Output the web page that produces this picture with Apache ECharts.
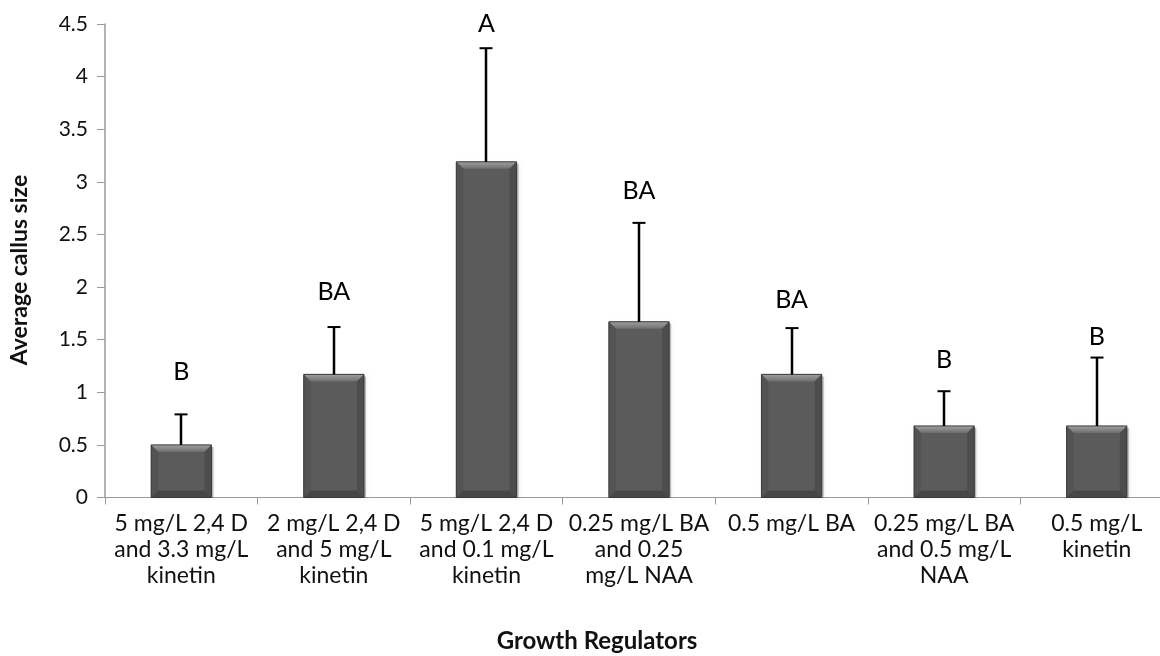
<!DOCTYPE html>
<html>
<head>
<meta charset="utf-8">
<title>Average callus size by growth regulator</title>
<script src="https://cdn.jsdelivr.net/npm/echarts@6/dist/echarts.min.js"></script>
<style>
  html, body { margin: 0; padding: 0; background: #ffffff; overflow: hidden; }
  /* the category axis runs on past the right edge of the page */
  #chart { width: 1180px; height: 656px; }
</style>
</head>
<body>
<div id="chart"></div>
<script>
// Treatments (growth regulator combinations)
const categories = [
  '5 mg/L 2,4 D\nand 3.3 mg/L\nkinetin',
  '2 mg/L 2,4 D\nand 5 mg/L\nkinetin',
  '5 mg/L 2,4 D\nand 0.1 mg/L\nkinetin',
  '0.25 mg/L BA\nand 0.25\nmg/L NAA',
  '0.5 mg/L BA',
  '0.25 mg/L BA\nand 0.5 mg/L\nNAA',
  '0.5 mg/L\nkinetin'
];
// Mean callus size per treatment
const meanSize = [0.50, 1.17, 3.19, 1.67, 1.17, 0.68, 0.68];
// Upper error (added on top of the mean)
const errorPlus = [0.29, 0.45, 1.08, 0.94, 0.44, 0.33, 0.65];
// Significance groups
const groups = ['B', 'BA', 'A', 'BA', 'BA', 'B', 'B'];
// Value-axis ticks
const yMin = 0, yMax = 4.5, yStep = 0.5;

// Height (in axis units) at which each group letter is written
const letterLevel = [1.19, 1.95, 4.50, 2.91, 1.88, 1.31, 1.53];

const FONT = 'Lato, "Open Sans", sans-serif';
const TEXT = '#111111';
const AXIS = '#9a9a9a';

const chart = echarts.init(document.getElementById('chart'), null, { renderer: 'canvas' });

// Bevelled dark-grey column
function renderBar(params, api) {
  const i = api.value(0);
  const top = api.coord([i, api.value(1)]);
  const base = api.coord([i, 0]);
  const w = api.size([1, 0])[0] * 0.395;
  const l = top[0] - w / 2, r = top[0] + w / 2;
  const t = top[1], b = base[1];
  const bv = Math.min(7, (b - t) / 3);
  return {
    type: 'group',
    children: [
      { type: 'rect', shape: { x: l + 2, y: t + 2, width: w, height: b - t - 2 },
        style: { fill: 'rgba(0,0,0,0.25)', shadowBlur: 4, shadowColor: 'rgba(0,0,0,0.35)' } },
      { type: 'rect', shape: { x: l, y: t, width: w, height: b - t },
        style: { fill: '#5b5b5b' } },
      { type: 'polygon', shape: { points: [[l, t], [r, t], [r - bv, t + bv], [l + bv, t + bv]] },
        style: { fill: new echarts.graphic.LinearGradient(0, 0, 0, 1, [
          { offset: 0, color: '#a0a0a0' }, { offset: 1, color: '#6e6e6e' }]) } },
      { type: 'polygon', shape: { points: [[l, t], [l + bv, t + bv], [l + bv, b - bv], [l, b]] },
        style: { fill: '#535353' } },
      { type: 'polygon', shape: { points: [[r, t], [r - bv, t + bv], [r - bv, b - bv], [r, b]] },
        style: { fill: '#4d4d4d' } },
      { type: 'polygon', shape: { points: [[l, b], [l + bv, b - bv], [r - bv, b - bv], [r, b]] },
        style: { fill: '#464646' } },
      { type: 'rect', shape: { x: l, y: t, width: w, height: b - t },
        style: { fill: 'none', stroke: '#3a3a3a', lineWidth: 1 } }
    ]
  };
}

// Upper error whisker with cap
function renderError(params, api) {
  const i = api.value(0);
  const lo = api.coord([i, api.value(1)]);
  const hi = api.coord([i, api.value(2)]);
  const cap = 6.5;
  const x = Math.round(lo[0]);
  return {
    type: 'group',
    children: [
      { type: 'line', shape: { x1: x, y1: lo[1], x2: x, y2: hi[1] },
        style: { stroke: '#000', lineWidth: 2.5 } },
      { type: 'line', shape: { x1: x - cap, y1: hi[1], x2: x + cap, y2: hi[1] },
        style: { stroke: '#000', lineWidth: 2 } }
    ]
  };
}

// Group letter above each column
function renderLetter(params, api) {
  const p = api.coord([api.value(0), api.value(1)]);
  return {
    type: 'text',
    x: p[0], y: p[1],
    style: {
      text: groups[params.dataIndex],
      fontFamily: FONT, fontSize: 25, fill: '#000',
      align: 'center', verticalAlign: 'middle'
    }
  };
}

const option = {
  animation: false,
  backgroundColor: '#ffffff',
  grid: { left: 105, top: 24, width: 1068, height: 473.5, containLabel: false },
  xAxis: {
    type: 'category',
    data: categories,
    boundaryGap: true,
    axisLine: { lineStyle: { color: AXIS, width: 1 } },
    axisTick: { show: true, length: 7, alignWithLabel: false, lineStyle: { color: AXIS } },
    axisLabel: {
      interval: 0, margin: 13,
      fontFamily: FONT, fontSize: 23, lineHeight: 26, color: TEXT, align: 'center'
    },
    splitLine: { show: false }
  },
  yAxis: {
    type: 'value',
    min: yMin, max: yMax, interval: yStep,
    axisLine: { show: true, lineStyle: { color: AXIS, width: 1.5 } },
    axisTick: { show: true, length: 8, lineStyle: { color: AXIS } },
    axisLabel: { fontFamily: FONT, fontSize: 21, color: TEXT, margin: 17 },
    splitLine: { show: false }
  },
  graphic: [
    {
      type: 'text', x: 20, y: 270, rotation: Math.PI / 2,
      style: {
        text: 'Average callus size', fontFamily: FONT, fontSize: 23, fontWeight: 'bold',
        fill: TEXT, align: 'center', verticalAlign: 'middle'
      }
    },
    {
      type: 'text', x: 597, y: 641,
      style: {
        text: 'Growth Regulators', fontFamily: FONT, fontSize: 24, fontWeight: 'bold',
        fill: TEXT, align: 'center', verticalAlign: 'middle'
      }
    }
  ],
  series: [
    {
      type: 'custom', name: 'Average callus size',
      renderItem: renderBar,
      encode: { x: 0, y: 1 },
      data: meanSize.map((v, i) => [i, v]),
      z: 2
    },
    {
      type: 'custom', name: 'Error',
      renderItem: renderError,
      encode: { x: 0, y: [1, 2] },
      data: meanSize.map((v, i) => [i, v, v + errorPlus[i]]),
      z: 3
    },
    {
      type: 'custom', name: 'Group',
      renderItem: renderLetter,
      encode: { x: 0, y: 1 },
      data: letterLevel.map((v, i) => [i, v]),
      z: 4
    }
  ]
};

chart.setOption(option);
</script>
</body>
</html>
